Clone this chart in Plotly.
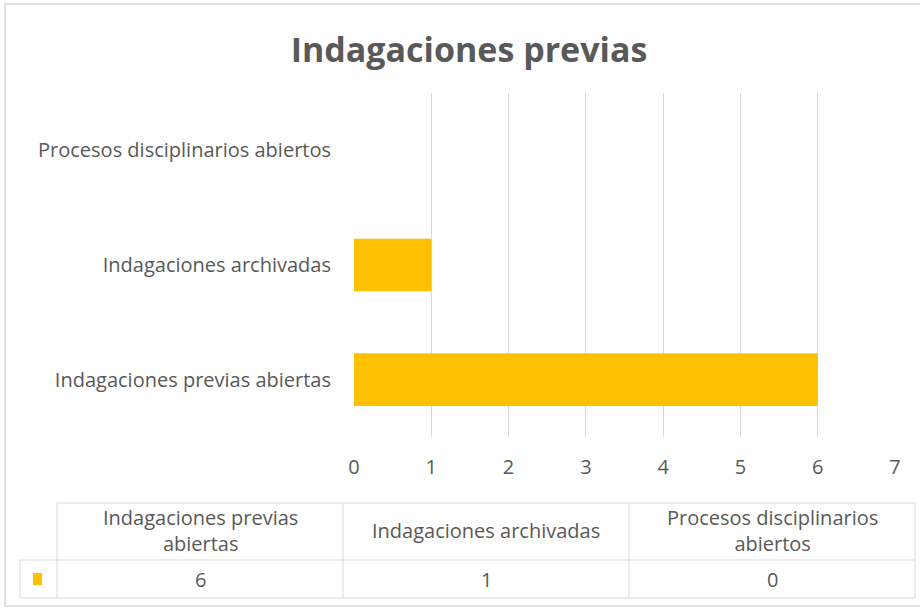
import plotly.graph_objects as go

categories = ["Indagaciones previas abiertas", "Indagaciones archivadas", "Procesos disciplinarios abiertos"]
values = [6, 1, 0]
tick_vals = [0, 1, 2, 3, 4, 5, 6, 7]
title_text = "Indagaciones previas"
header_labels = ["Indagaciones previas<br>abiertas", "Indagaciones archivadas", "Procesos disciplinarios<br>abiertos"]

W, H = 920, 611
L, R, T, B = 354, 895, 93, 437  # plot area in pixels

def px(x):
    return (x - L) / (R - L)

def py(y):
    return (B - y) / (B - T)

GOLD = "#FFC000"
GRAY_TXT = "#595959"
LINE = "#D9D9D9"
FONT = "Open Sans"
FS = 20

fig = go.Figure()
fig.add_trace(go.Bar(
    y=categories, x=values, orientation="h",
    marker=dict(color=GOLD, line=dict(width=0)),
    width=0.46, showlegend=False, hoverinfo="x+y",
))

shapes = []
# chart border
shapes.append(dict(type="rect", xref="paper", yref="paper",
                   x0=px(5), x1=px(930), y0=py(606), y1=py(4),
                   line=dict(color=LINE, width=1.5), layer="below"))

def hline(y, x0, x1):
    shapes.append(dict(type="line", xref="paper", yref="paper", x0=px(x0), x1=px(x1),
                       y0=py(y), y1=py(y), line=dict(color=LINE, width=1)))

def vline(x, y0, y1):
    shapes.append(dict(type="line", xref="paper", yref="paper", x0=px(x), x1=px(x),
                       y0=py(y0), y1=py(y1), line=dict(color=LINE, width=1)))

hline(503, 57, 915)
hline(560, 20, 915)
hline(598, 20, 915)
vline(20, 560, 598)
for xx in [57, 343, 629, 915]:
    vline(xx, 503, 598)
# legend key
shapes.append(dict(type="rect", xref="paper", yref="paper", x0=px(33), x1=px(42),
                   y0=py(585), y1=py(573), fillcolor=GOLD, line=dict(width=0)))

annotations = []
col_centers = [200, 486, 772]
for cx, lab, v in zip(col_centers, header_labels, values):
    annotations.append(dict(xref="paper", yref="paper", x=px(cx), y=py(530), text=lab,
                            showarrow=False, xanchor="center", yanchor="middle",
                            font=dict(family=FONT, size=FS, color=GRAY_TXT)))
    annotations.append(dict(xref="paper", yref="paper", x=px(cx), y=py(579), text=str(v),
                            showarrow=False, xanchor="center", yanchor="middle",
                            font=dict(family=FONT, size=FS, color=GRAY_TXT)))

fig.update_layout(
    width=W, height=H, autosize=False,
    margin=dict(l=L, r=W - R, t=T, b=H - B, pad=0),
    paper_bgcolor="white", plot_bgcolor="white",
    title=dict(text="<b>" + title_text + "</b>", x=469 / W, xanchor="center",
               y=1 - 50 / H, yanchor="middle",
               font=dict(family=FONT, size=34, color=GRAY_TXT)),
    xaxis=dict(range=[0, 7], tickvals=tick_vals, showgrid=True, gridcolor=LINE, gridwidth=1,
               zeroline=False, showline=False, ticks="", ticklabelstandoff=16,
               tickfont=dict(family=FONT, size=FS, color=GRAY_TXT), fixedrange=True),
    yaxis=dict(categoryorder="array", categoryarray=categories, showgrid=False,
               zeroline=False, showline=False, ticks="", ticklabelstandoff=22,
               tickfont=dict(family=FONT, size=FS, color=GRAY_TXT), fixedrange=True),
    shapes=shapes, annotations=annotations, bargap=0.54,
)

fig.write_html("out.html", config={"displayModeBar": False},
               post_script="document.body.style.margin='0px';document.body.style.overflow='hidden';")
